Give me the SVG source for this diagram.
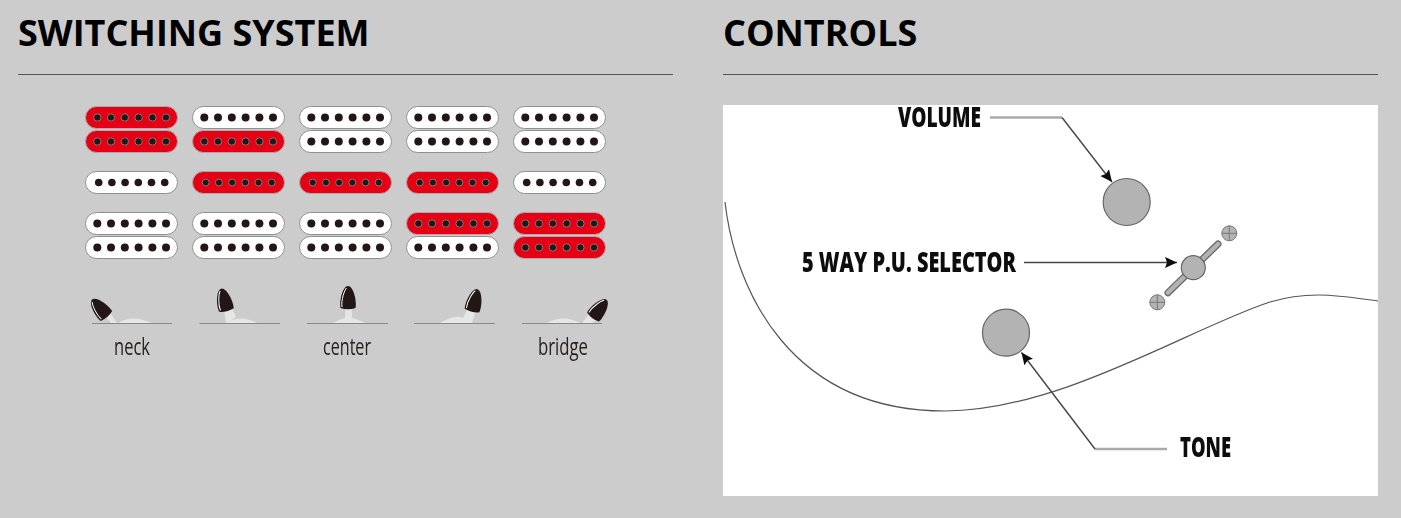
<svg xmlns="http://www.w3.org/2000/svg" width="1401" height="518" viewBox="0 0 1401 518">
<style>
.h{font-family:"Open Sans","Noto Sans","Liberation Sans",sans-serif;font-weight:700;font-size:36px;fill:#000}
.rule{stroke:#555;stroke-width:1;fill:none}
.pw{fill:#fff;stroke:#8f8f8f;stroke-width:1}
.pr{fill:#e60012;stroke:#aaa;stroke-width:1}
.dw{fill:#231815}
.dr{fill:#231815;stroke:#8a7a78;stroke-width:1}
.base{stroke:#888;stroke-width:1;fill:none}
.hump{fill:#e6e6e6}
.knob{fill:#231815}
.hl{fill:none;stroke:#fff;stroke-width:1}
.sl{font-family:"Open Sans","Noto Sans",sans-serif;font-size:23px;fill:#2a2020;text-anchor:start}
.cl{font-family:"Open Sans","Noto Sans",sans-serif;font-weight:800;font-size:28px;fill:#111}
.k{fill:#b3b3b3;stroke:#666;stroke-width:1.2}
.thin{fill:none;stroke:#444;stroke-width:1.4}
.thick{fill:none;stroke:#aaa;stroke-width:2.6}
.screw{fill:#b3b3b3;stroke:#777;stroke-width:1}
.cross{stroke:#777;stroke-width:1;fill:none}
</style>
<defs>
<filter id="soft" x="-2%" y="-2%" width="104%" height="104%"><feGaussianBlur stdDeviation="0.5"/></filter>
<filter id="soft2" x="-2%" y="-2%" width="104%" height="104%"><feGaussianBlur stdDeviation="0.35"/></filter>
<marker id="ah" markerUnits="userSpaceOnUse" markerWidth="14" markerHeight="12" refX="12" refY="5.500" orient="auto"><path d="M0,0L12,5.500L0,11L2,5.500Z" fill="#111"/></marker>
<g id="dh-w" class="dw"><circle cx="12.300" cy="11.500" r="4"/><circle cx="26" cy="11.500" r="4"/><circle cx="39.800" cy="11.500" r="4"/><circle cx="53.600" cy="11.500" r="4"/><circle cx="67.400" cy="11.500" r="4"/><circle cx="81" cy="11.500" r="4"/></g>
<g id="dh-r" class="dr"><circle cx="12.300" cy="11.500" r="3.700"/><circle cx="26" cy="11.500" r="3.700"/><circle cx="39.800" cy="11.500" r="3.700"/><circle cx="53.600" cy="11.500" r="3.700"/><circle cx="67.400" cy="11.500" r="3.700"/><circle cx="81" cy="11.500" r="3.700"/></g>
<g id="ds-w" class="dw"><circle cx="13.700" cy="11.500" r="3.800"/><circle cx="26.900" cy="11.500" r="3.800"/><circle cx="40.100" cy="11.500" r="3.800"/><circle cx="53.300" cy="11.500" r="3.800"/><circle cx="66.500" cy="11.500" r="3.800"/><circle cx="79.700" cy="11.500" r="3.800"/></g>
<g id="ds-r" class="dr"><circle cx="13.700" cy="11.500" r="3.500"/><circle cx="26.900" cy="11.500" r="3.500"/><circle cx="40.100" cy="11.500" r="3.500"/><circle cx="53.300" cy="11.500" r="3.500"/><circle cx="66.500" cy="11.500" r="3.500"/><circle cx="79.700" cy="11.500" r="3.500"/></g>
<g id="hw"><rect class="pw" x="0.500" y="0.500" width="92" height="22" rx="11"/><use href="#dh-w"/></g>
<g id="hr"><rect class="pr" x="0.500" y="0.500" width="92" height="22" rx="11"/><use href="#dh-r"/></g>
<g id="sw"><rect class="pw" x="0.500" y="0.500" width="92" height="22" rx="11"/><use href="#ds-w"/></g>
<g id="sr"><rect class="pr" x="0.500" y="0.500" width="92" height="22" rx="11"/><use href="#ds-r"/></g>
<g id="knob"><path class="knob" d="M-7.500,0C-9,-8 -5,-22 0,-22C5,-22 9,-8 7.500,0Q0,2.500 -7.500,0Z"/><path class="hl" d="M-6,-1C-7,-8 -3.500,-18 -1.500,-20"/></g>
</defs>
<rect width="1401" height="518" fill="#ccc"/>
<g id="switching-heading"><text class="h" x="18" y="45.500">SWITCHING SYSTEM</text><line class="rule" x1="18" y1="74.500" x2="673" y2="74.500"/></g>
<g id="controls-heading"><text class="h" x="723" y="45.500">CONTROLS</text><line class="rule" x1="723" y1="74.500" x2="1378" y2="74.500"/></g>
<g filter="url(#soft2)">
<g id="pickups">
<g id="pos1"><use href="#hr" x="85" y="106"/><use href="#hr" x="85" y="130"/><use href="#sw" x="85" y="171"/><use href="#hw" x="85" y="212"/><use href="#hw" x="85" y="236"/></g>
<g id="pos2"><use href="#hw" x="192" y="106"/><use href="#hr" x="192" y="130"/><use href="#sr" x="192" y="171"/><use href="#hw" x="192" y="212"/><use href="#hw" x="192" y="236"/></g>
<g id="pos3"><use href="#hw" x="299" y="106"/><use href="#hw" x="299" y="130"/><use href="#sr" x="299" y="171"/><use href="#hw" x="299" y="212"/><use href="#hw" x="299" y="236"/></g>
<g id="pos4"><use href="#hw" x="406" y="106"/><use href="#hw" x="406" y="130"/><use href="#sr" x="406" y="171"/><use href="#hr" x="406" y="212"/><use href="#hw" x="406" y="236"/></g>
<g id="pos5"><use href="#hw" x="513" y="106"/><use href="#hw" x="513" y="130"/><use href="#sw" x="513" y="171"/><use href="#hr" x="513" y="212"/><use href="#hr" x="513" y="236"/></g>
</g>
<g id="switches">
<g id="sw1"><path class="hump" d="M118,323Q133,314 151,323Z"/><path class="hump" d="M106,317L111,314L117,323L111,323Z"/><use href="#knob" transform="translate(106.500,316) rotate(-41)"/><line class="base" x1="92" y1="323.500" x2="172" y2="323.500"/></g>
<g id="sw2"><path class="hump" d="M226,323Q240,314 257,323Z"/><path class="hump" d="M224,309L232,308L236,317L228,323L226,323Z"/><use href="#knob" transform="translate(226.500,310) rotate(-14)"/><line class="base" x1="199.500" y1="323.500" x2="280" y2="323.500"/></g>
<g id="sw3"><path class="hump" d="M333,323Q340,319 345,318L345.500,307H351.500L352,318Q357,319 365,323Z"/><use href="#knob" transform="translate(348,308)"/><line class="base" x1="307" y1="323.500" x2="388" y2="323.500"/></g>
<g id="sw4"><path class="hump" d="M440,323Q456,314 463,318L468,308L476,310L472,323Z"/><use href="#knob" transform="translate(472,310.500) rotate(14)"/><line class="base" x1="414" y1="323.500" x2="495" y2="323.500"/></g>
<g id="sw5"><path class="hump" d="M547,323Q563,314 580,323Z"/><path class="hump" d="M582,323L590,313L597,320L592,323Z"/><use href="#knob" transform="translate(593,317) rotate(38)"/><line class="base" x1="522" y1="323.500" x2="602" y2="323.500"/></g>
</g>
<g id="switch-labels">
<text class="sl" x="114" y="355" textLength="36" lengthAdjust="spacingAndGlyphs">neck</text>
<text class="sl" x="323" y="355" textLength="48" lengthAdjust="spacingAndGlyphs">center</text>
<text class="sl" x="538" y="355" textLength="50" lengthAdjust="spacingAndGlyphs">bridge</text>
</g>
</g>
<rect id="panel" x="723" y="105" width="655" height="391" fill="#fff"/>
<g filter="url(#soft)">
<path id="body-outline" d="M725,202C735,290 790,411 945,411C1060,411 1190,328 1270,302C1310,290 1340,296 1378,301" fill="none" stroke="#555" stroke-width="1.200"/>
<g id="connectors">
<path class="thick" d="M990,117.500H1062"/><path class="thin" marker-end="url(#ah)" d="M1062,117.500L1112,182"/>
<path class="thin" marker-end="url(#ah)" d="M1024,262.500H1177"/>
<path class="thick" d="M1167,449H1095"/><path class="thin" marker-end="url(#ah)" d="M1095,449L1021.500,352.500"/>
</g>
<g id="volume-knob"><circle class="k" cx="1126.700" cy="202" r="23.500"/></g>
<g id="tone-knob"><circle class="k" cx="1006" cy="332.700" r="23.500"/></g>
<g id="selector">
<line x1="1168" y1="292.700" x2="1218" y2="244" stroke="#666" stroke-width="7" stroke-linecap="round"/>
<line x1="1168" y1="292.700" x2="1218" y2="244" stroke="#b3b3b3" stroke-width="4.500" stroke-linecap="round"/>
<circle class="k" cx="1193.300" cy="267.700" r="12"/>
<circle class="screw" cx="1229.300" cy="233.300" r="7.500"/><path class="cross" d="M1221.800,233.300h15M1229.300,225.800v15"/>
<circle class="screw" cx="1157.300" cy="302.300" r="7.500"/><path class="cross" d="M1149.800,302.300h15M1157.300,294.800v15"/>
</g>
<g id="control-labels">
<text class="cl" x="898" y="126.500" textLength="83" lengthAdjust="spacingAndGlyphs">VOLUME</text>
<text class="cl" x="802" y="272" textLength="214" lengthAdjust="spacingAndGlyphs">5 WAY P.U. SELECTOR</text>
<text class="cl" x="1180" y="457" textLength="51" lengthAdjust="spacingAndGlyphs">TONE</text>
</g>
</g>
</svg>
